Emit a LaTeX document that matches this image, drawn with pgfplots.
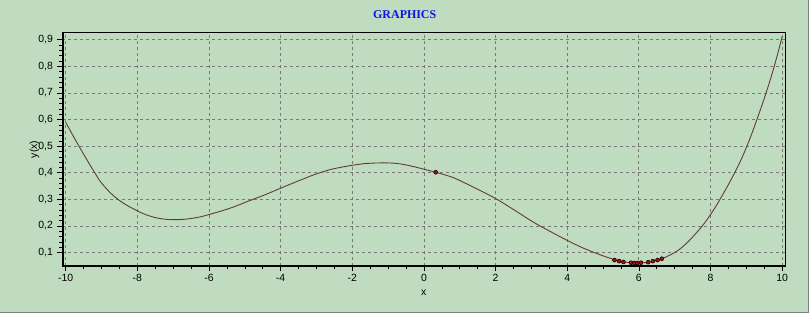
\documentclass[border=0pt]{standalone}
\usepackage{pgfplots}
\pgfplotsset{compat=1.18}
\usepackage{fontspec}
\setmainfont{Liberation Sans}
\newfontfamily\titlefont{Liberation Serif}
\definecolor{bgc}{RGB}{192,220,192}
\definecolor{curve}{RGB}{96,60,56}
\definecolor{mk}{RGB}{170,10,10}
\definecolor{gridc}{RGB}{120,120,120}
\definecolor{titleblue}{RGB}{10,20,230}
\pgfplotstableread{
x y
-10 0.590
-9.68 0.512
-9.22 0.407
-8.94 0.352
-8.52 0.298
-8.0 0.257
-7.64 0.237
-7.31 0.227
-7.0 0.224
-6.71 0.225
-6.33 0.232
-6.0 0.243
-5.5 0.263
-5.13 0.281
-4.93 0.292
-4.48 0.315
-4.0 0.342
-3.55 0.367
-3.0 0.396
-2.62 0.412
-2.01 0.428
-1.69 0.434
-1.2 0.437
-0.76 0.435
-0.38 0.426
0.01 0.413
0.33 0.402
0.73 0.386
0.92 0.376
1.38 0.346
1.99 0.304
2.5 0.262
3.05 0.215
3.52 0.180
4.0 0.146
4.45 0.117
4.92 0.092
5.29 0.075
5.6 0.065
5.9 0.061
6.2 0.063
6.5 0.071
6.68 0.079
7.15 0.114
7.61 0.175
7.98 0.239
8.35 0.320
8.73 0.415
9.01 0.498
9.29 0.598
9.57 0.708
9.80 0.810
10 0.912
}\curvedata
\pgfplotstableread{
x y
0.33 0.402
5.32 0.072
5.45 0.068
5.57 0.065
5.78 0.062
5.87 0.061
5.96 0.061
6.06 0.062
6.26 0.064
6.39 0.068
6.52 0.072
6.64 0.077
}\markdata
\begin{document}
\begin{tikzpicture}
\fill[bgc] (0bp,0bp) rectangle (809bp,313bp);
\draw[gray, line width=1bp] (0bp,0.5bp) -- (808.5bp,0.5bp) -- (808.5bp,313bp);
\begin{axis}[
  at={(62bp,47.3bp)}, anchor=south west,
  scale only axis, width=723bp, height=233.4bp,
  xmin=-10.09, xmax=10.08, ymin=0.0496, ymax=0.926,
  xtick={-10,-8,...,10}, ytick={0.1,0.2,...,0.9},
  minor x tick num=3, minor y tick num=4,
  tick align=outside, xtick pos=bottom, ytick pos=left,
  major tick length=5bp, minor tick length=3bp,
  tick style={black, line width=0.6bp},
  grid=major,
  major grid style={gridc, dash pattern=on 3bp off 3bp, line width=0.8bp},
  axis line style={black, line width=0.8bp},
  /pgf/number format/assume math mode=true,
  /pgf/number format/use comma,
  /pgf/number format/fixed,
  yticklabel style={font=\fontsize{10.5}{12}\selectfont, xshift=-1bp},
  xticklabel style={font=\fontsize{10.5}{12}\selectfont},
  xlabel={x}, ylabel={y(x)},
  xlabel style={at={(axis description cs:0.5,-0.116)}, anchor=center, font=\fontsize{10.5}{12}\selectfont},
  ylabel style={at={(axis description cs:-0.0387,0.5)}, anchor=center, font=\fontsize{10.5}{12}\selectfont},
  title={\titlefont\bfseries GRAPHICS},
  title style={at={(axis description cs:0.4737,1.054)}, anchor=center, text=titleblue, font=\fontsize{12}{14}\selectfont},
  axis background/.style={fill=bgc},
]
\addplot[curve, line width=0.9bp, smooth, tension=0.7] table {\curvedata};
\addplot[only marks, mark=*, mark size=2bp, mark options={fill=mk, draw=black, line width=0.5bp}] table {\markdata};
\draw[black, line width=2.2bp] (rel axis cs:0,1) -- (rel axis cs:0,0) -- (rel axis cs:1,0);
\end{axis}
\end{tikzpicture}
\end{document}
